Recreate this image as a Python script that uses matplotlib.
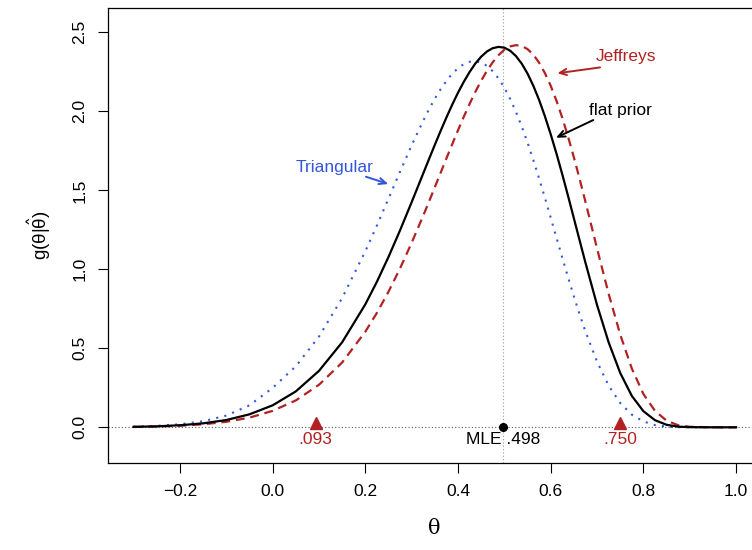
import matplotlib
matplotlib.use("Agg")
import matplotlib.pyplot as plt

plt.rcParams["font.family"] = ["Liberation Sans", "DejaVu Sans"]
plt.rcParams["mathtext.fontset"] = "dejavusans"

# theta grid and posterior densities
theta = [-0.3, -0.25, -0.2, -0.15, -0.1, -0.05, 0.0, 0.05, 0.1, 0.15, 0.2,
         0.225, 0.25, 0.275, 0.3, 0.325, 0.3375, 0.35, 0.3625, 0.375, 0.3875,
         0.4, 0.4125, 0.425, 0.4375, 0.45, 0.4625, 0.475, 0.4875, 0.5, 0.5125,
         0.525, 0.5375, 0.55, 0.5625, 0.575, 0.5875, 0.6, 0.6125, 0.625,
         0.6375, 0.65, 0.6625, 0.675, 0.7, 0.725, 0.75, 0.775, 0.8, 0.825,
         0.85, 0.875, 0.9, 0.95, 1.0]

flat = [0.003, 0.006, 0.013, 0.025, 0.046, 0.082, 0.139, 0.227, 0.357, 0.538,
        0.778, 0.921, 1.078, 1.247, 1.425, 1.607, 1.698, 1.788, 1.876, 1.961,
        2.042, 2.118, 2.187, 2.249, 2.303, 2.346, 2.379, 2.400, 2.408, 2.403,
        2.384, 2.350, 2.302, 2.239, 2.162, 2.072, 1.969, 1.855, 1.732, 1.601,
        1.464, 1.323, 1.182, 1.042, 0.774, 0.538, 0.344, 0.199, 0.102, 0.045,
        0.016, 0.004, 0.001, 0.0, 0.0]

jeffreys = [0.002, 0.005, 0.010, 0.019, 0.035, 0.061, 0.104, 0.170, 0.269,
            0.410, 0.605, 0.724, 0.858, 1.006, 1.168, 1.340, 1.429, 1.520,
            1.611, 1.702, 1.792, 1.880, 1.966, 2.047, 2.124, 2.194, 2.257,
            2.311, 2.356, 2.390, 2.411, 2.419, 2.414, 2.394, 2.359, 2.308,
            2.242, 2.162, 2.067, 1.959, 1.839, 1.709, 1.571, 1.427, 1.132,
            0.845, 0.587, 0.372, 0.211, 0.104, 0.042, 0.013, 0.003, 0.0, 0.0]

triangular = [0.004, 0.009, 0.019, 0.038, 0.074, 0.139, 0.249, 0.386, 0.574,
              0.818, 1.114, 1.277, 1.447, 1.618, 1.785, 1.941, 2.013, 2.080,
              2.140, 2.193, 2.238, 2.273, 2.299, 2.314, 2.317, 2.309, 2.288,
              2.254, 2.208, 2.150, 2.079, 1.997, 1.904, 1.802, 1.692, 1.575,
              1.453, 1.327, 1.200, 1.074, 0.949, 0.829, 0.714, 0.606, 0.416,
              0.264, 0.154, 0.080, 0.037, 0.014, 0.004, 0.001, 0.0, 0.0, 0.0]

mle = 0.498
interval = [0.093, 0.750]
interval_labels = [".093", ".750"]

RED = "#B22222"
BLUE = "#3355DD"

fig = plt.figure(figsize=(7.52, 5.5), dpi=100)
ax = fig.add_axes([0.1440, 0.1576, 0.8669, 0.8278])

ax.axhline(0, color="#555555", lw=0.8, ls=(0, (1, 2)), zorder=1)
ax.axvline(mle, color="#999999", lw=0.8, ls=(0, (1, 2)), zorder=1)

ax.plot(theta, triangular, color=BLUE, lw=1.5, ls=(0, (1, 3)), zorder=3)
ax.plot(theta, jeffreys, color=RED, lw=1.6, ls=(0, (4, 2.6)), zorder=3)
ax.plot(theta, flat, color="black", lw=1.6, solid_joinstyle="round", zorder=4)

ax.plot(interval, [0.03, 0.03], ls="none", marker="^", ms=8, color=RED, zorder=5)
ax.plot([mle], [0], ls="none", marker="o", ms=5.5, color="black", zorder=5)

for x, lab in zip(interval, interval_labels):
    ax.text(x, -0.08, lab, color=RED, fontsize=12.5, ha="center", va="center")
ax.text(mle, -0.08, "MLE .498", color="black", fontsize=12.5, ha="center", va="center")

arrow = dict(arrowstyle="->,head_length=0.5,head_width=0.22", lw=1.4,
             shrinkA=0, shrinkB=0)
ax.annotate("", xy=(0.6143, 2.241), xytext=(0.7064, 2.278),
            arrowprops=dict(arrow, color=RED))
ax.text(0.7625, 2.350, "Jeffreys", color=RED, fontsize=12.5, ha="center", va="center")
ax.annotate("", xy=(0.6114, 1.833), xytext=(0.6919, 1.945),
            arrowprops=dict(arrow, color="black"))
ax.text(0.7497, 2.008, "flat prior", color="black", fontsize=12.5, ha="center", va="center")
ax.annotate("", xy=(0.2496, 1.540), xytext=(0.2015, 1.586),
            arrowprops=dict(arrow, color=BLUE))
ax.text(0.1335, 1.644, "Triangular", color=BLUE, fontsize=12.5, ha="center", va="center")

ax.set_xlim(-0.3545, 1.052)
ax.set_ylim(-0.228, 2.654)
ax.set_xticks([-0.2, 0.0, 0.2, 0.4, 0.6, 0.8, 1.0])
ax.set_yticks([0.0, 0.5, 1.0, 1.5, 2.0, 2.5])
ax.set_xticklabels(["\u22120.2", "0.0", "0.2", "0.4", "0.6", "0.8", "1.0"])
ax.set_yticklabels(["0.0", "0.5", "1.0", "1.5", "2.0", "2.5"], rotation=90, va="center")
ax.tick_params(axis="both", labelsize=12.5, length=7, width=0.8, pad=8)
for s in ax.spines.values():
    s.set_linewidth(0.9)

ax.set_xlabel("\u03b8", fontsize=15, family="DejaVu Serif", labelpad=14)
ax.set_ylabel(r"g($\mathregular{\theta}$|$\hat{\mathregular{\theta}}$)", fontsize=13.5, labelpad=14)

fig.savefig("out.png", dpi=100)
